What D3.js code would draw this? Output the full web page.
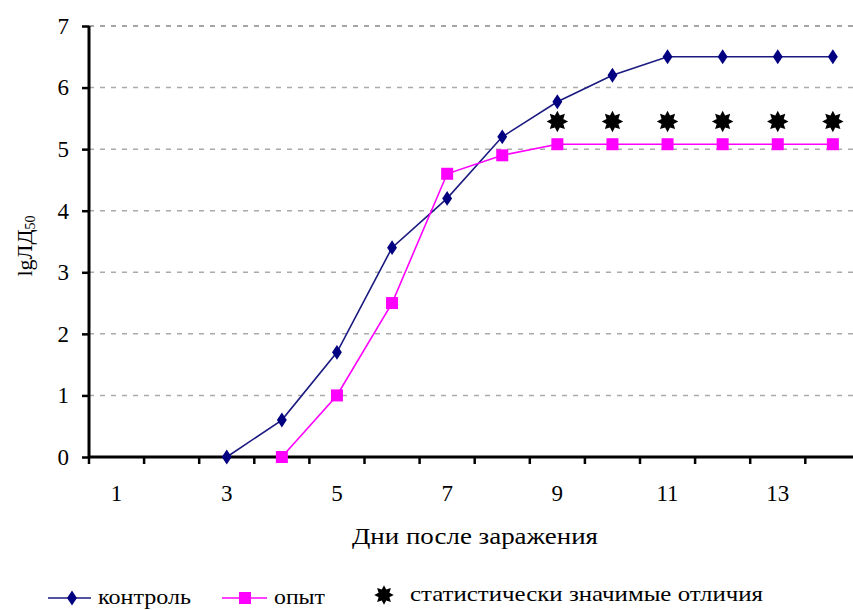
<!DOCTYPE html>
<html>
<head>
<meta charset="utf-8">
<script src="https://cdn.jsdelivr.net/npm/d3@7"></script>
<style>
    body { margin: 0; background: #fff; }
    svg { display: block; }
</style>
</head>
<body>
<svg id="chart" width="853" height="610"></svg>
<script>
// days on the x axis
const days = [1, 2, 3, 4, 5, 6, 7, 8, 9, 10, 11, 12, 13, 14];
const yTicks = [0, 1, 2, 3, 4, 5, 6, 7];
const xTickLabels = [1, 3, 5, 7, 9, 11, 13];

// lgЛД50 per day (null = no value)
const control = [null, null, 0, 0.6, 1.7, 3.4, 4.2, 5.2, 5.77, 6.2, 6.5, 6.5, 6.5, 6.5];
const experiment = [null, null, null, 0, 1.0, 2.5, 4.6, 4.9, 5.08, 5.08, 5.08, 5.08, 5.08, 5.08];

// statistically significant days and where the star sits
const sigDays = [9, 10, 11, 12, 13, 14];
const sigLevel = [5.45, 5.45, 5.45, 5.45, 5.45, 5.45];

const seriesNames = ['контроль', 'опыт', 'статистически значимые отличия'];

const serif = 'Liberation Serif';
const margin = { top: 26, left: 89, bottom: 153 };
const height = 610 - margin.top - margin.bottom;

const svg = d3.select('#chart');

const xScale = d3.scaleBand()
    .domain(days)
    .range([margin.left, margin.left + days.length * 55.1]);

const yScale = d3.scaleLinear()
    .domain([0, 7])
    .range([margin.top + height, margin.top]);

const xPos = d => xScale(d) + xScale.bandwidth() / 2;

// grid lines
svg.append('g')
    .selectAll('line')
    .data(yTicks.filter(t => t > 0))
    .enter()
    .append('line')
    .attr('x1', margin.left)
    .attr('x2', 853)
    .attr('y1', d => yScale(d))
    .attr('y2', d => yScale(d))
    .attr('stroke', d => d === 7 ? '#888' : '#aaa')
    .attr('stroke-width', 1.5)
    .attr('stroke-dasharray', '5,6');

// y axis
const yAxis = d3.axisLeft(yScale)
    .tickValues(yTicks)
    .tickFormat(d3.format('d'))
    .tickSize(7)
    .tickPadding(13);

const gy = svg.append('g')
    .attr('transform', `translate(${margin.left},0)`)
    .call(yAxis);
gy.select('.domain').attr('stroke-width', 3).attr('d', `M0,${yScale(7)}V${yScale(0)}`);
gy.selectAll('.tick line').attr('stroke-width', 2.5);
gy.selectAll('.tick text')
    .style('font-family', serif)
    .style('font-size', '23px');

// x axis: ticks between categories, labels on every second day
const xAxis = d3.axisBottom(xScale)
    .tickSize(7)
    .tickPadding(21)
    .tickFormat(d => xTickLabels.includes(d) ? d : '');

const gx = svg.append('g')
    .attr('transform', `translate(0,${yScale(0)})`)
    .call(xAxis);
gx.select('.domain').attr('stroke-width', 3).attr('d', `M${margin.left},0H853`);
gx.selectAll('.tick line')
    .attr('stroke-width', 2.5)
    .attr('transform', `translate(${-xScale.bandwidth() / 2},0)`);
gx.selectAll('.tick text')
    .style('font-family', serif)
    .style('font-size', '23px');

// axis titles
svg.append('text')
    .attr('x', 352)
    .attr('y', 544)
    .attr('textLength', 246)
    .attr('lengthAdjust', 'spacingAndGlyphs')
    .style('font-family', serif)
    .style('font-size', '23px')
    .text('Дни после заражения');

const yLabel = svg.append('text')
    .attr('transform', 'translate(32,246) rotate(-90)')
    .attr('text-anchor', 'middle')
    .style('font-family', serif)
    .style('font-size', '22px');
yLabel.append('tspan').text('lgЛД');
yLabel.append('tspan').attr('dy', 3).style('font-size', '14px').text('50');

// lines
const line = d3.line()
    .defined(d => d[1] !== null)
    .x(d => xPos(d[0]))
    .y(d => yScale(d[1]));

const controlData = days.map((d, i) => [d, control[i]]);
const experimentData = days.map((d, i) => [d, experiment[i]]);

svg.append('path')
    .datum(controlData)
    .attr('fill', 'none')
    .attr('stroke', '#1a1a80')
    .attr('stroke-width', 1.6)
    .attr('d', line);

svg.append('path')
    .datum(experimentData)
    .attr('fill', 'none')
    .attr('stroke', '#ff00ff')
    .attr('stroke-width', 1.6)
    .attr('d', line);

// markers
svg.append('g')
    .selectAll('path')
    .data(controlData.filter(d => d[1] !== null))
    .enter()
    .append('path')
    .attr('d', d3.symbol(d3.symbolDiamond, 64))
    .attr('transform', d => `translate(${xPos(d[0])},${yScale(d[1])}) scale(1.15,1)`)
    .attr('fill', '#000080');

svg.append('g')
    .selectAll('rect')
    .data(experimentData.filter(d => d[1] !== null))
    .enter()
    .append('rect')
    .attr('x', d => xPos(d[0]) - 6)
    .attr('y', d => yScale(d[1]) - 6)
    .attr('width', 12)
    .attr('height', 12)
    .attr('fill', '#ff00ff');

// 8 pointed star symbol
const star8 = {
    draw(context, size) {
        const r = Math.sqrt(size);
        const ri = r * 0.6;
        for (let i = 0; i < 16; i++) {
            const a = i * Math.PI / 8 - Math.PI / 2;
            const rr = i % 2 === 0 ? r : ri;
            if (i === 0) context.moveTo(rr * Math.cos(a), rr * Math.sin(a));
            else context.lineTo(rr * Math.cos(a), rr * Math.sin(a));
        }
        context.closePath();
    }
};

svg.append('g')
    .selectAll('path')
    .data(sigDays)
    .enter()
    .append('path')
    .attr('d', d3.symbol(star8, 115))
    .attr('transform', (d, i) => `translate(${xPos(d)},${yScale(sigLevel[i])})`)
    .attr('fill', '#000');

// legend
const legendY = 598;
const legend = svg.append('g');

legend.append('line')
    .attr('x1', 48).attr('x2', 91).attr('y1', legendY).attr('y2', legendY)
    .attr('stroke', '#1a1a80').attr('stroke-width', 1.6);
legend.append('path')
    .attr('d', d3.symbol(d3.symbolDiamond, 64))
    .attr('transform', `translate(72,${legendY}) scale(1.15,1)`)
    .attr('fill', '#000080');
legend.append('text')
    .attr('x', 98).attr('y', legendY + 6)
    .attr('textLength', 93)
    .attr('lengthAdjust', 'spacingAndGlyphs')
    .style('font-family', serif)
    .style('font-size', '22px')
    .text(seriesNames[0]);

legend.append('line')
    .attr('x1', 222).attr('x2', 267).attr('y1', legendY).attr('y2', legendY)
    .attr('stroke', '#ff00ff').attr('stroke-width', 1.6);
legend.append('rect')
    .attr('x', 239).attr('y', legendY - 6).attr('width', 12).attr('height', 12)
    .attr('fill', '#ff00ff');
legend.append('text')
    .attr('x', 274).attr('y', legendY + 6)
    .attr('textLength', 51)
    .attr('lengthAdjust', 'spacingAndGlyphs')
    .style('font-family', serif)
    .style('font-size', '22px')
    .text(seriesNames[1]);

legend.append('path')
    .attr('d', d3.symbol(star8, 95))
    .attr('transform', `translate(384,${legendY - 3})`)
    .attr('fill', '#000');
legend.append('text')
    .attr('x', 410).attr('y', legendY + 3)
    .attr('textLength', 353)
    .attr('lengthAdjust', 'spacingAndGlyphs')
    .style('font-family', serif)
    .style('font-size', '22px')
    .text(seriesNames[2]);
</script>
</body>
</html>
